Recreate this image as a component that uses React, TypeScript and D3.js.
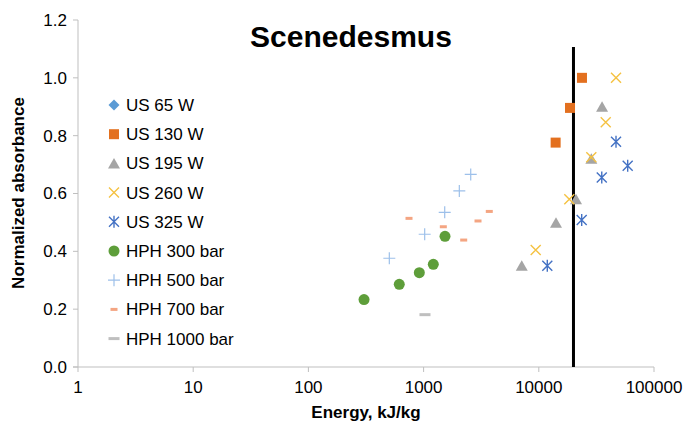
import React from "react";
import * as d3 from "d3";

const W = 685;
const H = 426;

const xTicks = [1, 10, 100, 1000, 10000, 100000];
const yTicks = [0, 0.2, 0.4, 0.6, 0.8, 1.0, 1.2];

const us65X: number[] = [];
const us65Y: number[] = [];
const us130X = [23700, 18660, 14000];
const us130Y = [1.0, 0.896, 0.776];
const us195X = [35400, 28570, 21040, 14100, 7110];
const us195Y = [0.9, 0.72, 0.58, 0.499, 0.35];
const us260X = [46800, 38100, 28570, 18400, 9400];
const us260Y = [1.0, 0.846, 0.725, 0.58, 0.405];
const us325X = [46800, 59100, 35200, 23570, 11850];
const us325Y = [0.779, 0.696, 0.655, 0.508, 0.35];
const hph300X = [304, 615, 918, 1214, 1534];
const hph300Y = [0.233, 0.286, 0.326, 0.355, 0.452];
const hph500X = [504, 1022, 1525, 2042, 2565];
const hph500Y = [0.376, 0.459, 0.535, 0.609, 0.666];
const hph700X = [747, 1483, 2229, 2967, 3717];
const hph700Y = [0.514, 0.485, 0.439, 0.505, 0.538];
const hph1000X = [1028];
const hph1000Y = [0.181];

const refLineX = 20000;
const refLineTop = 1.107;

const seriesNames = [
  "US 65 W",
  "US 130 W",
  "US 195 W",
  "US 260 W",
  "US 325 W",
  "HPH 300 bar",
  "HPH 500 bar",
  "HPH 700 bar",
  "HPH 1000 bar",
];
const seriesColors = [
  "#5B9BD5",
  "#E3701F",
  "#A5A5A5",
  "#F5C242",
  "#4472C4",
  "#5E9E3A",
  "#9DC0EA",
  "#F4A582",
  "#BFBFBF",
];
const seriesShapes = ["diamond", "square", "triangle", "x", "asterisk", "circle", "plus", "dash", "longdash"];
const seriesXs = [us65X, us130X, us195X, us260X, us325X, hph300X, hph500X, hph700X, hph1000X];
const seriesYs = [us65Y, us130Y, us195Y, us260Y, us325Y, hph300Y, hph500Y, hph700Y, hph1000Y];

const FONT = "'Liberation Sans', Arial, sans-serif";

function Marker({ shape, color, x, y }: { shape: string; color: string; x: number; y: number }) {
  const t = `translate(${x},${y})`;
  if (shape === "diamond") {
    return <path transform={t} d="M0,-5.5L5.5,0L0,5.5L-5.5,0Z" fill={color} />;
  }
  if (shape === "square") {
    return <rect x={x - 5} y={y - 5} width={10} height={10} fill={color} />;
  }
  if (shape === "triangle") {
    return <path transform={t} d="M0,-5.5L6,5L-6,5Z" fill={color} />;
  }
  if (shape === "circle") {
    return <circle cx={x} cy={y} r={5.5} fill={color} />;
  }
  if (shape === "x") {
    return (
      <path transform={t} d="M-5,-5L5,5M-5,5L5,-5" stroke={color} strokeWidth={1.4} fill="none" />
    );
  }
  if (shape === "asterisk") {
    return (
      <path
        transform={t}
        d="M-5,-5L5,5M-5,5L5,-5M0,-6L0,6"
        stroke={color}
        strokeWidth={1.4}
        fill="none"
      />
    );
  }
  if (shape === "plus") {
    return <path transform={t} d="M-6,0L6,0M0,-6L0,6" stroke={color} strokeWidth={1.2} fill="none" />;
  }
  if (shape === "dash") {
    return <rect x={x - 3.5} y={y - 1.5} width={7} height={3} fill={color} />;
  }
  if (shape === "longdash") {
    return <rect x={x - 5.5} y={y - 1.5} width={11} height={3} fill={color} />;
  }
  return null;
}

export default function App() {
  const x = d3.scaleLog().domain([1, 100000]).range([78, 654]);
  const y = d3.scaleLinear().domain([0, 1.2]).range([367, 20]);
  const axisColor = "#BFBFBF";

  const legendX = 114;
  const legendY0 = 105;
  const legendStep = 29.2;

  return (
    <svg
      width={W}
      height={H}
      style={{ position: "absolute", left: 0, top: 0, background: "#fff" }}
      fontFamily={FONT}
    >
      <rect width={W} height={H} fill="#fff" />
      {/* title */}
      <text x={351} y={47} textAnchor="middle" fontSize={30} fontWeight="bold" fill="#000">
        Scenedesmus
      </text>

      {/* y axis */}
      <line x1={78} x2={78} y1={y(1.2)} y2={y(0)} stroke={axisColor} strokeWidth={1} />
      {yTicks.map((t) => (
        <g key={t}>
          <line x1={73} x2={78} y1={y(t)} y2={y(t)} stroke={axisColor} />
          <text x={67} y={y(t)} dy="0.35em" textAnchor="end" fontSize={17} fill="#000">
            {t.toFixed(1)}
          </text>
        </g>
      ))}

      {/* x axis */}
      <line x1={x(1) - 5} x2={x(100000)} y1={y(0)} y2={y(0)} stroke={axisColor} />
      {xTicks.map((t) => (
        <g key={t}>
          <line x1={x(t)} x2={x(t)} y1={y(0)} y2={y(0) + 5} stroke={axisColor} />
          <text x={x(t)} y={393} textAnchor="middle" fontSize={17} fill="#000">
            {String(t)}
          </text>
        </g>
      ))}

      {/* axis titles */}
      <text x={366} y={418} textAnchor="middle" fontSize={17} fontWeight="bold" fill="#000">
        Energy, kJ/kg
      </text>
      <text
        transform={`translate(24,193) rotate(-90)`}
        textAnchor="middle"
        fontSize={17}
        fontWeight="bold"
        fill="#000"
      >
        Normalized absorbance
      </text>

      {/* reference line */}
      <line
        x1={x(refLineX)}
        x2={x(refLineX)}
        y1={y(refLineTop)}
        y2={y(0)}
        stroke="#000"
        strokeWidth={3}
      />

      {/* data */}
      {seriesNames.map((name, i) => (
        <g key={name}>
          {seriesXs[i].map((v, j) => (
            <Marker key={j} shape={seriesShapes[i]} color={seriesColors[i]} x={x(v)} y={y(seriesYs[i][j])} />
          ))}
        </g>
      ))}

      {/* legend */}
      {seriesNames.map((name, i) => {
        const ly = legendY0 + i * legendStep;
        return (
          <g key={"lg" + name}>
            <Marker shape={seriesShapes[i]} color={seriesColors[i]} x={legendX} y={ly} />
            <text x={126} y={ly} dy="0.35em" fontSize={17} fill="#000">
              {name}
            </text>
          </g>
        );
      })}
    </svg>
  );
}
